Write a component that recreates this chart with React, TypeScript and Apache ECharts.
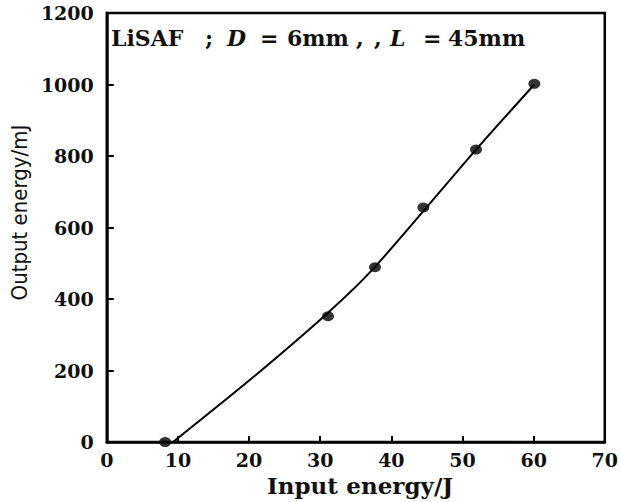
import React, { useEffect, useRef } from "react";
import * as echarts from "echarts";

const measuredInput = [8.2, 31.1, 37.7, 44.5, 51.9, 60.1];
const measuredOutput = [0, 352, 489, 656, 818, 1002];
const fitInput = [9.3, 20, 31.1, 37.7, 51.9, 60.1];
const fitOutput = [0, 172, 362, 490, 818, 1000];
const xTicks = [0, 10, 20, 30, 40, 50, 60, 70];
const yTicks = [0, 200, 400, 600, 800, 1000, 1200];

const serif = "'DejaVu Serif', 'Liberation Serif', serif";
const sansNarrow = "'Liberation Sans Narrow', 'DejaVu Sans Condensed', 'Noto Sans', sans-serif";

export default function App() {
  const ref = useRef<HTMLDivElement>(null);
  useEffect(() => {
    document.body.style.margin = "0";
    if (!ref.current) return;
    const chart = echarts.init(ref.current, null, { renderer: "svg" });
    const n = { fontFamily: serif, fontWeight: "bold", fontSize: 22, color: "#111" };
    const it = { fontFamily: serif, fontStyle: "italic", fontWeight: "bold", fontSize: 22, color: "#111" };
    const xn = { fontFamily: serif, fontWeight: "bold", fontSize: 23, color: "#111" };
    chart.setOption({
      animation: false,
      backgroundColor: "#ffffff",
      title: {
        left: 111,
        top: 27,
        padding: 0,
        text: "{a|LiSAF}{b|;}{c|D}{d|=}{e|6mm}{f|,}{g|,}{h|L}{k|=}{m|45mm}",
        textStyle: {
          rich: {
            a: { ...n, width: 94 },
            b: { ...n, width: 22 },
            c: { ...it, width: 33 },
            d: { ...n, width: 27 },
            e: { ...n, width: 69 },
            f: { ...n, width: 18 },
            g: { ...n, width: 16 },
            h: { ...it, width: 33 },
            k: { ...n, width: 25 },
            m: { ...n },
          },
        },
      },
      grid: {
        left: 102,
        right: 12,
        top: 13,
        bottom: 56,
        show: true,
        borderColor: "#000",
        borderWidth: 2.5,
        backgroundColor: "transparent",
      },
      xAxis: {
        type: "value",
        min: xTicks[0],
        max: xTicks[xTicks.length - 1],
        interval: 10,
        name: "{a|Input}{b|energy/J}",
        nameLocation: "middle",
        nameGap: 25,
        nameTextStyle: {
          rich: {
            a: { ...xn, width: 88 },
            b: { ...xn },
          },
        },
        axisLine: { show: true, lineStyle: { color: "#000", width: 2.5 } },
        axisTick: { show: true, inside: true, length: 6, lineStyle: { color: "#000", width: 2 } },
        axisLabel: {
          margin: 8,
          fontFamily: serif,
          fontWeight: "bold",
          fontSize: 19,
          color: "#111",
          formatter: (v: number) => String(v),
        },
        splitLine: { show: false },
      },
      yAxis: {
        type: "value",
        min: yTicks[0],
        max: yTicks[yTicks.length - 1],
        interval: 200,
        name: "Output energy/mJ",
        nameLocation: "middle",
        nameRotate: 90,
        nameGap: 68,
        nameTextStyle: { fontFamily: sansNarrow, fontSize: 22, color: "#111", padding: [0, 0, 0, 30] },
        axisLine: { show: true, lineStyle: { color: "#000", width: 2.5 } },
        axisTick: { show: true, inside: true, length: 7, lineStyle: { color: "#000", width: 2 } },
        axisLabel: {
          margin: 13,
          fontFamily: serif,
          fontWeight: "bold",
          fontSize: 19,
          color: "#111",
          formatter: (v: number) => String(v),
        },
        splitLine: { show: false },
      },
      series: [
        {
          type: "line",
          data: fitInput.map((x, i) => [x, fitOutput[i]]),
          smooth: 0.25,
          showSymbol: false,
          symbol: "none",
          lineStyle: { color: "#000", width: 2 },
          z: 2,
        },
        {
          type: "scatter",
          data: measuredInput.map((x, i) => [x, measuredOutput[i]]),
          symbol: "circle",
          symbolSize: [12, 10],
          itemStyle: { color: "#000" },
          z: 3,
        },
      ],
    });
    return () => chart.dispose();
  }, []);
  return <div ref={ref} style={{ width: 621, height: 502 }} />;
}
